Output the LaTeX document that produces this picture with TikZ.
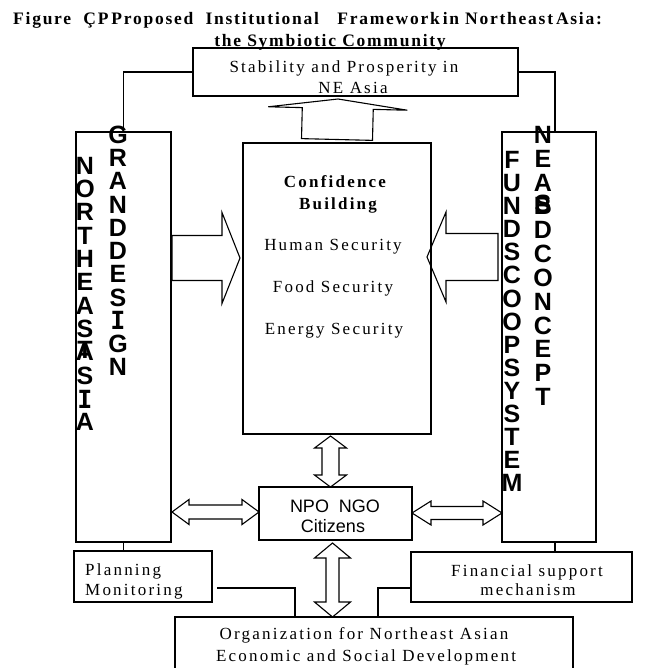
\documentclass[tikz,border=0pt]{standalone}
\usepackage{fontspec}
\setmainfont{Liberation Serif}
\newfontfamily\mincho{Liberation Serif}[LetterSpace=13]
\newfontfamily\titlefont{Liberation Serif}[LetterSpace=10]
\newfontfamily\goth{Liberation Sans}
\newfontfamily\gothmono{DejaVu Sans Mono}
\newcommand\serifI{{\gothmono\bfseries I}}
\usetikzlibrary{calc}

% open block arrow with one head: #1 tail, #2 tip, #3 shaft half width,
% #4 head half width, #5 head length
\newcommand\fatone[5]{%
  \draw[fat] ($(#1)!#3!90:(#2)$) -- ($(#2)!#5!(#1)!#3!-90:(#1)$)
    -- ($(#2)!#5!(#1)!#4!-90:(#1)$) -- (#2)
    -- ($(#2)!#5!(#1)!#4!90:(#1)$) -- ($(#2)!#5!(#1)!#3!90:(#1)$)
    -- ($(#1)!#3!-90:(#2)$) -- cycle;}
% open block arrow with a head at both ends
\newcommand\fattwo[5]{%
  \draw[fat] (#1) -- ($(#1)!#5!(#2)!#4!90:(#2)$) -- ($(#1)!#5!(#2)!#3!90:(#2)$)
    -- ($(#2)!#5!(#1)!#3!-90:(#1)$) -- ($(#2)!#5!(#1)!#4!-90:(#1)$) -- (#2)
    -- ($(#2)!#5!(#1)!#4!90:(#1)$) -- ($(#2)!#5!(#1)!#3!90:(#1)$)
    -- ($(#1)!#5!(#2)!#3!-90:(#2)$) -- ($(#1)!#5!(#2)!#4!-90:(#2)$) -- cycle;}

\tikzset{
  box/.style={draw, line width=1.3pt, inner sep=0pt, outer sep=0pt},
  link/.style={line width=1.3pt},
  fat/.style={draw, line width=1.1pt, line join=miter},
  lbl/.style={font=\mincho\fontsize{17}{19}\selectfont, inner sep=0pt, anchor=base},
  lblb/.style={font=\mincho\bfseries\fontsize{17}{19}\selectfont, inner sep=0pt, anchor=base},
  vlet/.style={font=\goth\bfseries\fontsize{25}{25}\selectfont, inner sep=0pt},
  sanslbl/.style={font=\goth\fontsize{18}{20}\selectfont, inner sep=0pt, anchor=base},
  ttl/.style={font=\titlefont\bfseries\fontsize{17.5}{20}\selectfont, inner sep=0pt},
}

\begin{document}
\begin{tikzpicture}[x=1pt, y=-1pt]
\useasboundingbox (0,0) rectangle (648,668);

% title
\node[ttl, anchor=base west] (title1) at (13,25)
  {Figure\ \ ÇP\,Proposed\ \ Institutional\ \ \ Framework\,in Northeast\,Asia:};
\node[ttl, anchor=base] (title2) at (330,46.7) {the Symbiotic Community};

% boxes
\node[box, minimum width=325pt, minimum height=48pt] (stab) at (355.5,72) {};
\node[box, minimum width=95pt, minimum height=410pt] (lbox) at (123.5,337) {};
\node[box, minimum width=94pt, minimum height=410pt] (rbox) at (549,337) {};
\node[box, minimum width=188pt, minimum height=291pt] (cbox) at (337,288.5) {};
\node[box, minimum width=153pt, minimum height=53pt] (npo) at (335.5,513.5) {};
\node[box, minimum width=138pt, minimum height=51pt] (plan) at (143,576.5) {};
\node[box, minimum width=221pt, minimum height=50pt] (fin) at (521.5,577) {};
\node[box, minimum width=398pt, minimum height=56pt] (org) at (374,645) {};

% box texts
\node[lbl] (stab1) at (344,72.7) {Stability and Prosperity in};
\node[lbl] (stab2) at (353,94) {NE Asia};
\node[lblb] (cb1) at (335,188) {Confidence};
\node[lblb] (cb2) at (338,210) {Building};
\node[lbl] (cb3) at (333,250.7) {Human Security};
\node[lbl] (cb4) at (333,292.7) {Food Security};
\node[lbl] (cb5) at (334,334.5) {Energy Security};
\node[sanslbl] (npo1) at (335,512.7) {NPO\ \ NGO};
\node[sanslbl] (npo2) at (333,532.7) {Citizens};
\node[lbl, anchor=base west] (plan1) at (85,575) {Planning};
\node[lbl, anchor=base west] (plan2) at (85,595) {Monitoring};
\node[lbl] (fin1) at (527,576) {Financial support};
\node[lbl] (fin2) at (528,595) {mechanism};
\node[lbl] (org1) at (364,639.3) {Organization for Northeast Asian};
\node[lbl] (org2) at (366,661.7) {Economic and Social Development};

% vertical lettering in the side boxes (some letters share a slot)
\foreach \ch/\yy [count=\k] in {N/166,O/189,R/212,T/236,H/259,E/282,A/306,S/329,T/350,A/352,S/376,\serifI/399,A/422}
  \node[vlet] (nea\k) at (85,\yy) {\ch};
\foreach \ch [count=\k] in {G,R,A,N,D,D,E,S,\serifI,G,N}
  \node[vlet] (gd\k) at (118,{135+23.2*(\k-1)}) {\ch};
\foreach \ch [count=\k] in {F,U,N,D,S,C,O,O,P,S,Y,S,T,E,M}
  \node[vlet] (fs\k) at (512,{160+23.07*(\k-1)}) {\ch};
\foreach \ch/\yy [count=\k] in {N/135,E/158.8,A/182.6,S/204,B/206.4,D/230.2,C/254,O/277.8,N/301.6,C/325.4,E/349.2,P/373,T/396.8}
  \node[vlet] (nc\k) at (543,\yy) {\ch};

% plain connectors
\draw[link] (stab.west) -| (lbox.north);
\draw[link] (stab.east) -| ([xshift=6pt]rbox.north);
\draw[link] (lbox.south) -- (lbox.south |- plan.north);
\draw[link] ([xshift=6pt]rbox.south) -- ([xshift=6pt]rbox.south |- fin.north);
\draw[link, shorten <=5pt] ([yshift=-11.5pt]plan.east) -| ([xshift=-79pt]org.north);
\draw[link] ([yshift=-11pt]fin.west) -| ([xshift=4pt]org.north);

% block arrows
\coordinate (upA) at ($(cbox.north)+(0,-3.5)$);
\coordinate (upB) at ($(cbox.north |- stab.south)+(1,3)$);
\fatone{upA}{upB}{35.5pt}{69.5pt}{9.5pt}

\coordinate (bigLA) at ($(lbox.east |- 0,258)+(1,0)$);
\coordinate (bigLB) at ($(cbox.west |- 0,258)+(-3,0)$);
\fatone{bigLA}{bigLB}{22.5pt}{45.5pt}{18pt}

\coordinate (bigRA) at ($(rbox.west |- 0,257)+(-4,0)$);
\coordinate (bigRB) at ($(cbox.east |- 0,257)+(-4,0)$);
\fatone{bigRA}{bigRB}{23.5pt}{45pt}{19pt}

\coordinate (v1A) at ($(cbox.south -| npo.north)+(-5,2)$);
\coordinate (v1B) at ($(npo.north)+(-5,0)$);
\fattwo{v1A}{v1B}{8.5pt}{16pt}{12pt}

\coordinate (v2A) at ($(npo.south)+(-3,3)$);
\coordinate (v2B) at ($(org.north -| npo.south)+(-3,0)$);
\fattwo{v2A}{v2B}{6.5pt}{18pt}{15pt}

\coordinate (h1A) at ($(lbox.east |- 0,512)+(1,0)$);
\coordinate (h1B) at (npo.west |- 0,512);
\fattwo{h1A}{h1B}{7pt}{12.5pt}{17pt}

\coordinate (h2A) at (npo.east |- 0,513);
\coordinate (h2B) at (rbox.west |- 0,513);
\fattwo{h2A}{h2B}{6.5pt}{12pt}{19pt}
\end{tikzpicture}
\end{document}
